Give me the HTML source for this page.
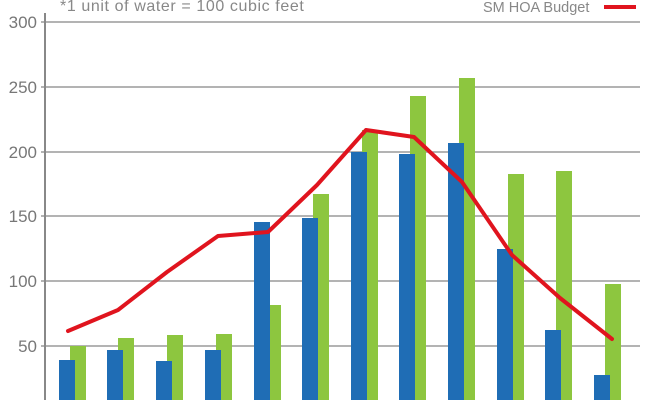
<!DOCTYPE html>
<html><head><meta charset="utf-8"><style>
html,body{margin:0;padding:0;background:#fff;}
svg{display:block;font-family:"Liberation Sans",sans-serif;}
</style></head><body>
<svg width="648" height="400" viewBox="0 0 648 400" xmlns="http://www.w3.org/2000/svg">
<g stroke="#9a9a9a" stroke-width="1.5">
<line x1="41" y1="22" x2="640" y2="22"/>
<line x1="41" y1="87" x2="640" y2="87"/>
<line x1="41" y1="152" x2="640" y2="152"/>
<line x1="41" y1="216" x2="640" y2="216"/>
<line x1="41" y1="281" x2="640" y2="281"/>
<line x1="41" y1="346" x2="640" y2="346"/>
<line x1="45" y1="13" x2="45" y2="400" stroke="#888" stroke-width="2"/>
</g>
<g fill="#777" font-size="17" text-anchor="end">
<text x="37" y="28">300</text><text x="37" y="93">250</text><text x="37" y="158">200</text>
<text x="37" y="222">150</text><text x="37" y="287">100</text><text x="37" y="352">50</text>
</g>
<text x="60" y="11" fill="#888" font-size="16" letter-spacing="0.6">*1 unit of water = 100 cubic feet</text>
<text x="483" y="12" fill="#888" font-size="14.5">SM HOA Budget</text>
<line x1="604" y1="7" x2="636" y2="7" stroke="#e0141e" stroke-width="4"/>
<g fill="#8dc63f">
<rect x="70" y="346" width="16" height="60"/>
<rect x="118" y="338" width="16" height="70"/>
<rect x="167" y="335" width="16" height="70"/>
<rect x="216" y="334" width="16" height="70"/>
<rect x="265" y="305" width="16" height="100"/>
<rect x="313" y="194" width="16" height="210"/>
<rect x="362" y="130" width="16" height="270"/>
<rect x="410" y="96" width="16" height="310"/>
<rect x="459" y="78" width="16" height="330"/>
<rect x="508" y="174" width="16" height="230"/>
<rect x="556" y="171" width="16" height="230"/>
<rect x="605" y="284" width="16" height="120"/>
</g>
<g fill="#1f6db5">
<rect x="59" y="360" width="16" height="50"/>
<rect x="107" y="350" width="16" height="50"/>
<rect x="156" y="361" width="16" height="50"/>
<rect x="205" y="350" width="16" height="50"/>
<rect x="254" y="222" width="16" height="190"/>
<rect x="302" y="218" width="16" height="190"/>
<rect x="351" y="152" width="16" height="250"/>
<rect x="399" y="154" width="16" height="250"/>
<rect x="448" y="143" width="16" height="260"/>
<rect x="497" y="249" width="16" height="160"/>
<rect x="545" y="330" width="16" height="80"/>
<rect x="594" y="375" width="16" height="30"/>
</g>
<polyline fill="none" stroke="#e0141e" stroke-width="4" stroke-linejoin="round" stroke-linecap="round"
points="68,331 118,310 167,272 218,236 268,232 317,185 366,130 414,137 462,182 512,255 560,298 612,339"/>
</svg>
</body></html>
